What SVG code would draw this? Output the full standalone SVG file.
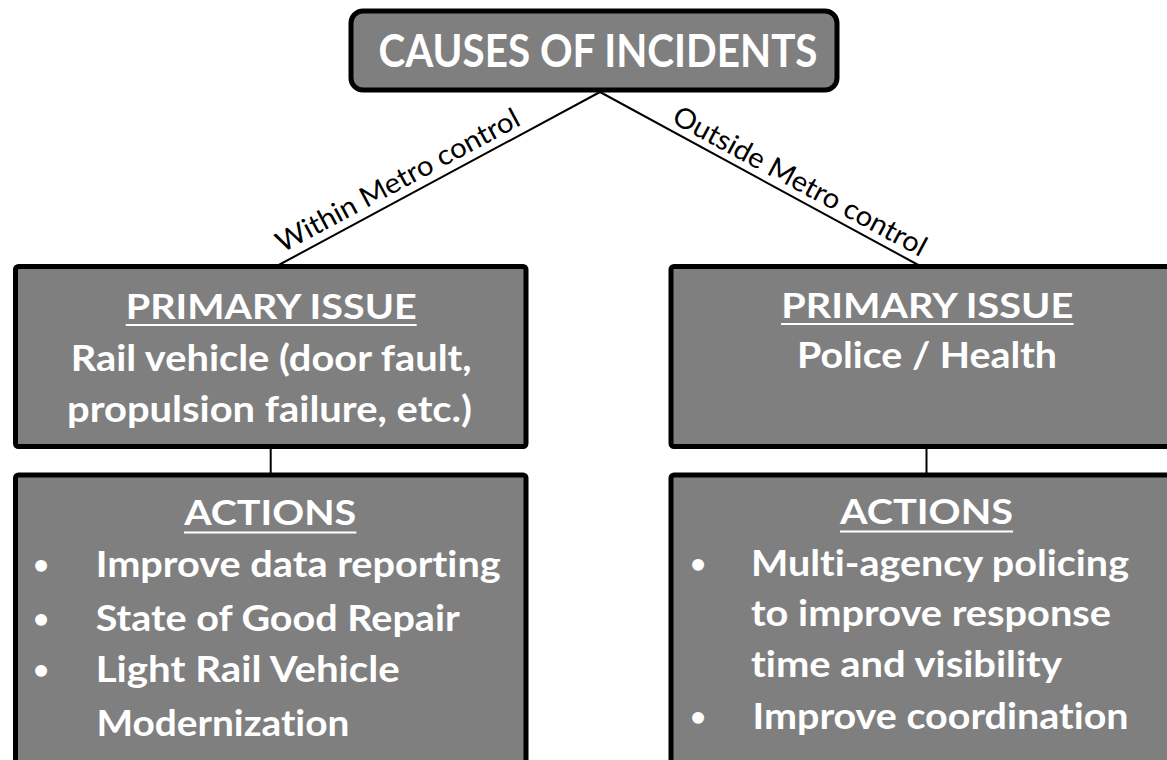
<svg xmlns="http://www.w3.org/2000/svg" width="1167" height="760" viewBox="0 0 1167 760">
<style>
text{font-variant-ligatures:none;font-feature-settings:"liga" 0,"clig" 0}
.box{fill:#7f7f7f;stroke:#000;stroke-width:5}
.t{font-family:Lato,"Open Sans","Liberation Sans",sans-serif;font-weight:700;fill:#fff}
.c{text-anchor:middle}
.b{font-size:27px}
.ul{stroke:#fff;stroke-width:2}
.lab{font-family:Lato,"Open Sans","Liberation Sans",sans-serif;font-size:28px;fill:#000;text-anchor:middle}
.conn{stroke:#000;stroke-width:2;fill:none}
</style>
<rect width="1167" height="760" fill="#fff"/>
<g id="connectors">
<line class="conn" x1="600" y1="92" x2="275" y2="267"/>
<line class="conn" x1="600" y1="92" x2="922" y2="267"/>
<line class="conn" x1="270.7" y1="448" x2="270.7" y2="474"/>
<line class="conn" x1="926.5" y1="448" x2="926.5" y2="474"/>
<g transform="translate(406,195.9) rotate(-28.2)"><text class="lab" x="0" y="-8" textLength="272" lengthAdjust="spacingAndGlyphs">Within Metro control</text></g>
<g transform="translate(792,195.8) rotate(28.4)"><text class="lab" x="0" y="-7" textLength="284" lengthAdjust="spacingAndGlyphs">Outside Metro control</text></g>
</g>
<g id="causes">
<rect class="box" x="351" y="11" width="486" height="79" rx="12"/>
<text class="t c" x="598" y="67" font-size="45" textLength="439" lengthAdjust="spacingAndGlyphs">CAUSES OF INCIDENTS</text>
</g>
<g id="primary-left">
<rect class="box" x="15.5" y="266.5" width="510.5" height="180" rx="3"/>
<text class="t c" x="271.2" y="318.5" font-size="35" textLength="291" lengthAdjust="spacingAndGlyphs">PRIMARY ISSUE</text>
<line class="ul" x1="125.7" y1="325" x2="416.7" y2="325"/>
<text class="t c" x="271.2" y="370.5" font-size="36" textLength="401" lengthAdjust="spacingAndGlyphs">Rail vehicle (door fault,</text>
<text class="t c" x="269.5" y="422" font-size="36" textLength="405" lengthAdjust="spacingAndGlyphs">propulsion failure, etc.)</text>
</g>
<g id="primary-right">
<rect class="box" x="671" y="266.5" width="510" height="180" rx="3"/>
<text class="t c" x="927.3" y="317.5" font-size="35" textLength="292" lengthAdjust="spacingAndGlyphs">PRIMARY ISSUE</text>
<line class="ul" x1="781" y1="324" x2="1073.6" y2="324"/>
<text class="t c" x="927" y="367.6" font-size="36" textLength="260" lengthAdjust="spacingAndGlyphs">Police / Health</text>
</g>
<g id="actions-left">
<rect class="box" x="15.5" y="475" width="510.5" height="330" rx="3"/>
<text class="t c" x="270.2" y="525" font-size="35" textLength="172" lengthAdjust="spacingAndGlyphs">ACTIONS</text>
<line class="ul" x1="184" y1="532.5" x2="356.4" y2="532.5"/>
<g class="t" font-size="36">
<text x="41" y="574" class="c b">•</text>
<text x="41" y="627.5" class="c b">•</text>
<text x="41" y="679" class="c b">•</text>
<text x="95.7" y="577" textLength="405" lengthAdjust="spacingAndGlyphs">Improve data reporting</text>
<text x="95.7" y="630.5" textLength="364" lengthAdjust="spacingAndGlyphs">State of Good Repair</text>
<text x="95.7" y="682" textLength="304" lengthAdjust="spacingAndGlyphs">Light Rail Vehicle</text>
<text x="96.4" y="735.5" textLength="253" lengthAdjust="spacingAndGlyphs">Modernization</text>
</g>
</g>
<g id="actions-right">
<rect class="box" x="671" y="475" width="510" height="330" rx="3"/>
<text class="t c" x="926.5" y="524" font-size="35" textLength="173" lengthAdjust="spacingAndGlyphs">ACTIONS</text>
<line class="ul" x1="840" y1="531.6" x2="1013" y2="531.6"/>
<g class="t" font-size="36">
<text x="698" y="573" class="c b">•</text>
<text x="698" y="726" class="c b">•</text>
<text x="751" y="576" textLength="378" lengthAdjust="spacingAndGlyphs">Multi-agency policing</text>
<text x="751" y="626" textLength="360" lengthAdjust="spacingAndGlyphs">to improve response</text>
<text x="751" y="677" textLength="311" lengthAdjust="spacingAndGlyphs">time and visibility</text>
<text x="752.6" y="729" textLength="376" lengthAdjust="spacingAndGlyphs">Improve coordination</text>
</g>
</g>
</svg>
